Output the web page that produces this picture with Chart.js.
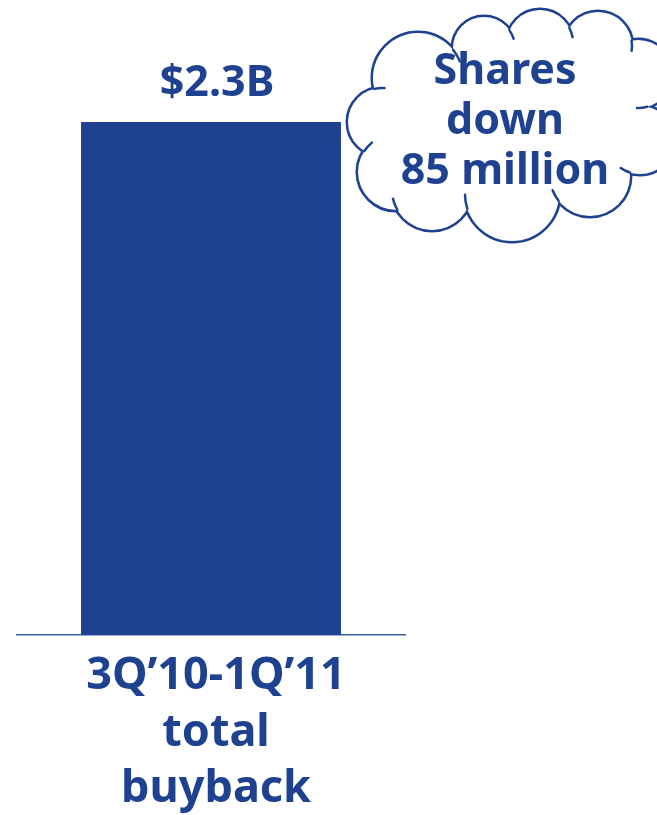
<!DOCTYPE html>
<html>
<head>
<meta charset="utf-8">
<script src="https://cdn.jsdelivr.net/npm/chart.js@4.4.1/dist/chart.umd.min.js"></script>
<style>
  html, body { margin: 0; padding: 0; background: #fff; }
  .chart-wrap { width: 657px; height: 815px; position: relative; }
</style>
</head>
<body>
<div class="chart-wrap">
  <canvas id="chart"></canvas>
</div>
<script>
const categories = [["3Q\u201910-1Q\u201911", "total", "buyback"]];
const buybackBillions = [2.3];
const calloutLines = ["Shares", "down", "85 million"];

const BLUE = '#1f4290';
const FONT = "'Noto Sans', sans-serif";

// thought cloud lobes (x, y, radius), clockwise from the left side
const cloudLobes = [
  [382, 122, 34], [418, 78, 45], [484, 48, 31], [540, 43, 33],
  [598, 46, 34], [638, 74, 34], [640, 140, 34], [590, 176, 40],
  [512, 194, 47], [432, 190, 40], [396, 172, 38]
];

// crossing point of two overlapping lobes on the outside of the cloud
function crossing([x1, y1, r1], [x2, y2, r2]) {
  const dx = x2 - x1, dy = y2 - y1;
  const d = Math.hypot(dx, dy);
  const a = (r1 * r1 - r2 * r2 + d * d) / (2 * d);
  const h = Math.sqrt(Math.max(0, r1 * r1 - a * a));
  return [x1 + a * dx / d + h * dy / d, y1 + a * dy / d - h * dx / d];
}

const valueLabel = {
  id: 'valueLabel',
  afterDatasetsDraw(chart) {
    const { ctx } = chart;
    const meta = chart.getDatasetMeta(0);
    ctx.save();
    ctx.fillStyle = BLUE;
    ctx.font = `bold 43px ${FONT}`;
    ctx.textAlign = 'center';
    ctx.textBaseline = 'alphabetic';
    meta.data.forEach((bar, i) => {
      ctx.fillText(`$${buybackBillions[i]}B`, bar.x + 6, bar.y - 26);
    });
    ctx.restore();
  }
};

const cloud = {
  id: 'cloud',
  afterDraw(chart) {
    const { ctx } = chart;
    ctx.save();
    // thick strokes first, then white fills leave only the outer edge
    ctx.strokeStyle = BLUE;
    ctx.lineWidth = 5;
    cloudLobes.forEach(([x, y, r]) => {
      ctx.beginPath();
      ctx.arc(x, y, r, 0, Math.PI * 2);
      ctx.stroke();
    });
    ctx.fillStyle = '#fff';
    cloudLobes.forEach(([x, y, r]) => {
      ctx.beginPath();
      ctx.arc(x, y, r, 0, Math.PI * 2);
      ctx.fill();
    });
    ctx.beginPath();
    cloudLobes.forEach(([x, y], i) => (i ? ctx.lineTo(x, y) : ctx.moveTo(x, y)));
    ctx.closePath();
    ctx.fill();

    // little tails where one lobe runs into the next
    ctx.lineWidth = 2.5;
    ctx.lineCap = 'round';
    cloudLobes.forEach((lobe, i) => {
      const next = cloudLobes[(i + 1) % cloudLobes.length];
      const [px, py] = crossing(lobe, next);
      const t = Math.atan2(py - lobe[1], px - lobe[0]);
      ctx.beginPath();
      ctx.arc(lobe[0], lobe[1], lobe[2], t, t + 0.3);
      ctx.stroke();
    });

    ctx.fillStyle = BLUE;
    ctx.font = `bold 43px ${FONT}`;
    ctx.textAlign = 'center';
    calloutLines.forEach((line, i) => {
      ctx.fillText(line, 505, 84 + i * 50);
    });
    ctx.restore();
  }
};

new Chart(document.getElementById('chart'), {
  type: 'bar',
  data: {
    labels: categories,
    datasets: [{
      data: buybackBillions,
      backgroundColor: BLUE,
      categoryPercentage: 1,
      barPercentage: 0.67
    }]
  },
  options: {
    responsive: true,
    maintainAspectRatio: false,
    animation: false,
    layout: { padding: { left: 17, right: 252, top: 122, bottom: 0 } },
    plugins: { legend: { display: false }, tooltip: { enabled: false } },
    scales: {
      x: {
        grid: { display: false },
        border: { display: true, color: '#3d5ea5', width: 1.5 },
        afterFit(scale) { scale.height = 180; },
        ticks: {
          color: BLUE,
          padding: 5,
          labelOffset: 5,
          font: { family: "'Noto Sans', sans-serif", size: 45, weight: 'bold', lineHeight: 1.255 }
        }
      },
      y: {
        display: false,
        min: 0,
        max: 2.3
      }
    }
  },
  plugins: [valueLabel, cloud]
});
</script>
</body>
</html>
